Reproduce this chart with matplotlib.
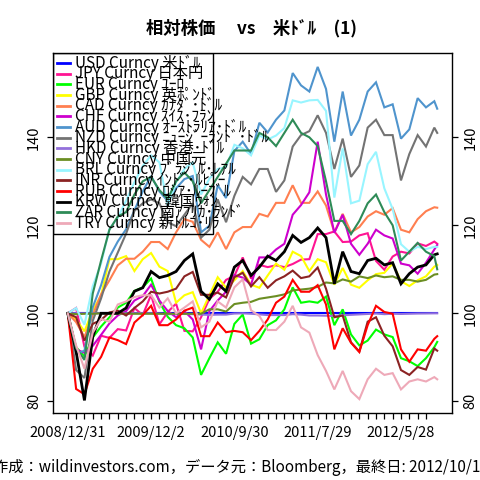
import matplotlib
matplotlib.use('Agg')
import matplotlib.pyplot as plt
from matplotlib.patches import Rectangle

plt.rcParams['font.family'] = ['Noto Sans CJK JP', 'DejaVu Sans']

# sample index (trading days from 2008/12/31), one value every 20 days + last day
idx = list(range(0, 881, 20)) + [887]
tick_pos = list(range(0, 861, 20))
date_labels = {0: '2008/12/31', 200: '2009/12/2', 400: '2010/9/30',
               600: '2011/7/29', 800: '2012/5/28'}

usd = [100.0] * 46
jpy = [100, 101.2, 92.4, 90.4, 94.9, 94.4, 96.4, 96.1, 101.2, 99.6,
       104.2, 97.5, 100.3, 102.2, 96.0, 95.9, 99.1, 103.3, 104.9, 107.6,
       108.5, 112.7, 107.9, 111.0, 110.5, 110.9, 110.5, 111.2, 112.2, 112.3,
       118.0, 118.0, 118.6, 116.2, 116.3, 117.7, 118.2, 111.9, 109.9, 112.9,
       114.0, 113.6, 115.9, 115.3, 116.3, 115.8]
eur = [100, 92.3, 90.2, 94.5, 97.0, 99.1, 101.3, 102.4, 105.1, 105.9,
       107.9, 102.6, 99.2, 97.3, 96.6, 94.5, 86.0, 89.8, 93.4, 90.8,
       97.6, 99.7, 93.1, 94.1, 97.3, 98.4, 100.9, 105.9, 102.4, 102.7,
       102.4, 103.8, 97.3, 100.9, 95.2, 92.7, 93.8, 96.3, 95.2, 94.6,
       89.8, 89.1, 88.0, 89.8, 92.3, 93.5]
gbp = [100, 98.6, 95.9, 100.7, 104.1, 112.3, 112.3, 113.0, 109.6, 112.3,
       113.7, 110.6, 109.6, 102.4, 104.1, 104.8, 100.0, 104.1, 108.2, 105.8,
       107.5, 109.6, 106.5, 105.8, 108.6, 111.3, 109.9, 114.0, 113.0, 109.6,
       112.3, 111.6, 106.5, 110.3, 106.5, 105.8, 107.5, 108.9, 109.2, 111.3,
       107.3, 106.2, 107.5, 108.4, 110.6, 111.0]
cad = [100, 98.0, 94.6, 99.6, 104.3, 107.5, 110.9, 112.4, 112.4, 114.0,
       116.2, 116.2, 114.6, 118.4, 121.4, 120.8, 116.7, 115.1, 118.4, 114.6,
       118.4, 119.6, 119.6, 122.6, 122.0, 125.1, 125.1, 129.1, 125.1, 125.1,
       127.7, 124.5, 118.4, 122.6, 118.4, 119.6, 122.0, 123.2, 122.4, 123.9,
       119.0, 118.4, 121.4, 123.2, 124.1, 124.0]
chf = [100, 91.8, 91.0, 92.6, 95.1, 97.7, 99.5, 100.5, 102.9, 103.9,
       106.5, 102.9, 100.5, 99.1, 100.5, 98.6, 91.8, 100.5, 102.9, 104.9,
       108.7, 108.1, 106.5, 112.7, 112.7, 114.5, 115.8, 122.4, 124.6, 127.5,
       139.0, 127.0, 118.3, 122.4, 115.8, 113.3, 115.8, 119.0, 117.7, 117.0,
       111.3, 110.9, 109.0, 111.5, 114.5, 115.5]
aud = [100, 90.8, 91.5, 101.4, 106.4, 112.8, 116.3, 119.1, 123.4, 127.7,
       131.2, 127.7, 125.5, 128.4, 130.5, 131.2, 118.4, 119.9, 129.1, 126.2,
       136.9, 139.0, 136.2, 143.3, 141.1, 144.0, 146.1, 154.6, 151.8, 150.4,
       156.0, 151.0, 139.0, 150.4, 140.4, 144.0, 150.4, 152.5, 146.8, 147.5,
       139.7, 141.8, 148.9, 146.8, 148.2, 146.5]
nzd = [100, 87.1, 85.3, 98.3, 103.4, 109.5, 113.8, 118.1, 123.3, 125.0,
       125.9, 125.0, 120.7, 119.8, 122.4, 125.0, 117.2, 119.0, 125.9, 120.7,
       126.7, 131.0, 129.3, 132.8, 132.8, 127.6, 130.2, 137.9, 140.5, 141.4,
       145.0, 141.0, 132.8, 139.7, 131.0, 133.6, 142.2, 144.0, 140.5, 140.5,
       130.2, 136.2, 140.5, 137.9, 142.2, 141.0]
hkd = [100, 100, 99.98, 100, 100, 100, 100, 100, 100, 100,
       100, 99.95, 99.8, 99.85, 99.85, 99.8, 99.7, 99.65, 99.7, 99.7,
       99.95, 100, 99.9, 99.75, 99.6, 99.6, 99.6, 99.8, 99.7, 99.5,
       99.5, 99.45, 99.4, 99.55, 99.65, 99.75, 99.85, 99.95, 99.8, 99.9,
       99.85, 99.9, 99.95, 99.97, 100, 100]
cny = [100, 99.8, 99.9, 99.9, 100, 99.9, 99.9, 99.9, 99.9, 99.9,
       99.9, 99.9, 99.9, 99.9, 99.9, 99.9, 99.9, 100.9, 100.9, 100.4,
       102.1, 102.4, 102.6, 103.3, 103.6, 103.9, 104.3, 105.2, 105.4, 105.6,
       106.0, 107.0, 106.8, 107.7, 107.2, 108.4, 108.0, 108.6, 108.2, 108.4,
       107.6, 107.6, 107.2, 107.6, 108.8, 108.9]
brl = [100, 101.2, 97.4, 106.2, 111.3, 119.2, 121.7, 125.6, 129.8, 133.5,
       135.9, 134.3, 124.3, 129.8, 132.8, 134.3, 127.0, 130.6, 132.8, 133.2,
       138.3, 137.5, 135.9, 140.4, 139.5, 140.4, 142.1, 148.4, 147.9, 148.4,
       148.5, 146.0, 126.3, 137.5, 125.0, 125.6, 133.9, 136.7, 128.4, 123.7,
       115.7, 114.0, 115.1, 114.6, 115.1, 115.1]
inr = [100, 99.1, 93.8, 97.6, 98.5, 100.2, 100.6, 99.5, 101.2, 102.7,
       104.9, 104.5, 104.9, 105.6, 108.4, 109.4, 104.2, 104.2, 104.7, 103.6,
       108.2, 109.2, 106.1, 108.2, 105.8, 107.5, 108.4, 109.7, 108.0, 108.4,
       110.4, 105.6, 99.1, 99.5, 93.4, 91.3, 98.1, 99.1, 94.9, 92.5,
       87.1, 86.0, 87.8, 87.2, 92.0, 91.5]
rub = [100, 82.8, 81.6, 87.4, 90.1, 94.5, 93.9, 93.0, 97.9, 99.6,
       101.7, 97.3, 97.3, 98.6, 100.6, 101.3, 94.8, 94.8, 97.9, 95.7,
       96.0, 95.7, 93.9, 96.0, 98.6, 102.4, 103.8, 107.6, 104.9, 104.9,
       106.4, 102.0, 91.8, 96.6, 93.3, 91.2, 97.3, 101.7, 100.3, 99.9,
       91.8, 89.0, 91.8, 91.5, 94.2, 94.8]
krw = [100, 91.3, 80.2, 94.7, 100.0, 100.0, 100.0, 101.2, 105.0, 105.8,
       109.5, 108.1, 108.6, 109.5, 112.0, 113.5, 105.0, 103.2, 106.7, 105.0,
       110.5, 112.0, 108.6, 110.5, 113.0, 112.0, 114.0, 117.7, 116.1, 117.2,
       119.4, 117.2, 106.7, 114.0, 109.5, 109.0, 112.0, 112.5, 111.0, 111.5,
       106.7, 109.0, 110.5, 111.0, 113.3, 113.5]
zar = [100, 92.1, 89.4, 104.5, 112.0, 119.0, 122.0, 123.0, 127.0, 130.0,
       131.0, 128.0, 126.0, 130.0, 132.0, 130.0, 125.0, 128.0, 131.0, 134.0,
       137.0, 137.0, 137.0, 141.0, 140.0, 138.0, 141.0, 144.0, 141.0, 140.0,
       138.0, 130.0, 121.0, 121.0, 118.0, 121.0, 125.0, 127.0, 123.0, 120.0,
       112.0, 114.0, 116.0, 114.0, 113.0, 110.0]
try_ = [100, 92.7, 87.4, 95.6, 98.7, 98.1, 102.0, 102.7, 103.7, 104.1,
        104.1, 101.3, 103.4, 100.0, 101.3, 102.7, 96.8, 98.1, 102.7, 101.3,
        105.9, 107.7, 100.7, 99.4, 96.2, 96.2, 98.1, 101.7, 96.8, 95.6,
        90.5, 86.9, 82.7, 86.9, 82.3, 80.5, 85.0, 87.4, 86.0, 86.4,
        82.7, 84.5, 85.0, 84.5, 85.5, 85.0]

names = ['USD Curncy 米ﾄﾞﾙ', 'JPY Curncy 日本円', 'EUR Curncy ﾕｰﾛ', 'GBP Curncy 英ﾎﾟﾝﾄﾞ',
         'CAD Curncy ｶﾅﾀﾞ･ﾄﾞﾙ', 'CHF Curncy ｽｲｽ･ﾌﾗﾝ', 'AUD Curncy ｵｰｽﾄﾗﾘｱ･ﾄﾞﾙ',
         'NZD Curncy ﾆｭｰｼﾞｰﾗﾝﾄﾞ･ﾄﾞﾙ', 'HKD Curncy 香港･ﾄﾞﾙ', 'CNY Curncy 中国元',
         'BRL Curncy ﾌﾞﾗｼﾞﾙ･ﾚｱﾙ', 'INR Curncy ｲﾝﾄﾞ･ﾙﾋﾟｰ', 'RUB Curncy ﾛｼｱ･ﾙｰﾌﾞﾙ',
         'KRW Curncy 韓国ｳｫﾝ', 'ZAR Curncy 南ｱﾌﾘｶ･ﾗﾝﾄﾞ', 'TRY Curncy 新ﾄﾙｺ･ﾘﾗ']
values = [usd, jpy, eur, gbp, cad, chf, aud, nzd, hkd, cny, brl, inr, rub, krw, zar, try_]
colors = ['#0000FF', '#FF1493', '#00FF00', '#FFFF00', '#FF7F50', '#CD00CD', '#4F94CD',
          '#737373', '#9370DB', '#6B8E23', '#98F5FF', '#8B2323', '#FF0000', '#000000',
          '#2E8B57', '#EEA9B8']

fig = plt.figure(figsize=(4.8, 4.8), dpi=100)
ax = fig.add_axes([53 / 480, 67 / 480, 399 / 480, 360 / 480])

for vals, col in zip(values, colors):
    lw = 2.0 if col == '#000000' else 1.5
    ax.plot(idx, vals, color=col, lw=lw, solid_joinstyle='miter')

n = idx[-1]
ax.set_xlim(-0.04 * n, 1.04 * n)
ax.set_ylim(77.34, 159.16)

ax.set_xticks(tick_pos)
ax.set_xticklabels([date_labels.get(t, '') for t in tick_pos], fontsize=10.5)
ax.set_yticks([80, 100, 120, 140])
ax.set_yticklabels(['80', '100', '120', '140'], fontsize=10.5)
ax.tick_params(axis='y', right=True, labelright=True, labelrotation=90,
               length=4.5, width=0.9, pad=4)
ax.tick_params(axis='x', length=4.5, width=0.9, pad=5)
for t in ax.yaxis.get_major_ticks():
    t.label1.set_va('center')
    t.label2.set_va('center')
for s in ax.spines.values():
    s.set_linewidth(1.0)

# legend box drawn by hand (text runs past the frame like the original)
ax.add_patch(Rectangle((0, 0.497), 0.401, 0.503, transform=ax.transAxes,
                       fill=False, lw=1.0, zorder=6))
for i, (name, col) in enumerate(zip(names, colors)):
    y = (413 - (63 + 10.67 * i)) / 360
    ax.plot([0.010, 0.043], [y, y], transform=ax.transAxes, color=col, lw=2,
            clip_on=False, zorder=6)
    ax.text(0.055, y, name, transform=ax.transAxes, fontsize=11,
            va='center', ha='left', zorder=6)

fig.text(252 / 480, 1 - 28 / 480, '相対株価\u3000 vs\u3000米ﾄﾞﾙ\u3000(1)', ha='center',
         va='center', fontsize=12.5, fontweight='bold')
fig.text(-7 / 480, 1 - 468 / 480,
         '作成：wildinvestors.com，データ元：Bloomberg，最終日: 2012/10/10',
         ha='left', va='center', fontsize=11)

fig.savefig('out.png', dpi=100)
